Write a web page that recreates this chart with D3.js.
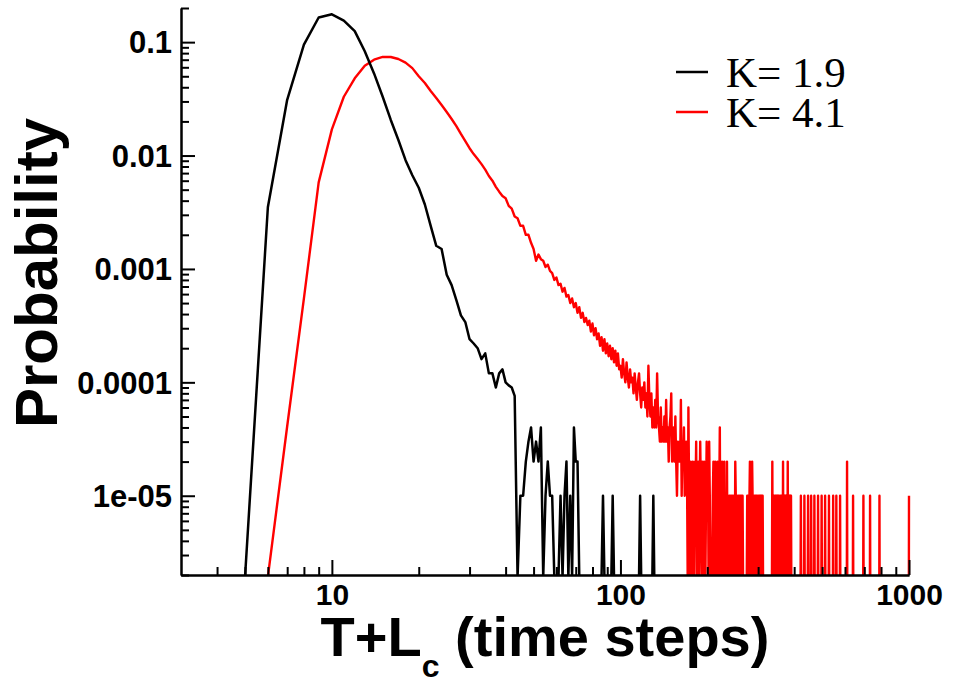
<!DOCTYPE html>
<html>
<head>
<meta charset="utf-8">
<script src="https://cdn.jsdelivr.net/npm/d3@7"></script>
<style>
  body { margin: 0; background: #fff; }
  svg text { font-family: "Liberation Sans", Arial, sans-serif; font-weight: bold; fill: #000; }
</style>
</head>
<body>
<div id="chart"></div>
<script>
// K = 1.9, probabilities for T+Lc = 5..43
const blackStart = 5;
const blackHead = [
  0, 0.0035, 0.031, 0.095, 0.165, 0.176, 0.155, 0.125, 0.083, 0.053,
  0.033, 0.0206, 0.0137, 0.0091, 0.0067, 0.0052, 0.0037, 0.0024, 0.0016, 0.0015,
  0.00089, 0.00072, 0.00053, 0.00039, 0.00034, 0.00024, 0.00022, 0.0002, 0.00016, 0.00018,
  0.00012, 0.00012, 0.00009, 0.00012, 0.00013, 0.0001, 0.000094, 0.00009, 0.000076
];
// K = 1.9, counts (x 1e-5) for T+Lc = 44..131
const blackTailStart = 44;
const blackTail = [
  0, 1, 1, 2, 3, 4, 2, 3, 2, 4,
  0, 1, 2, 1, 1, 0, 0, 0, 1, 0,
  1, 2, 0, 1, 0, 4, 2, 2, 0, 0,
  0, 0, 0, 0, 0, 0, 0, 0, 0, 0,
  0, 0, 0, 1, 0, 0, 0, 0, 0, 0,
  1, 0, 0, 0, 0, 0, 0, 0, 0, 0,
  0, 0, 0, 0, 0, 0, 0, 0, 0, 0,
  0, 0, 0, 1, 0, 0, 0, 0, 0, 0,
  0, 0, 0, 0, 0, 0, 1, 0
];

// K = 4.1, probabilities for T+Lc = 6..99
const redStart = 6;
const redHead = [
  0, 4.1e-5, 5.5e-4, 0.0058, 0.0170, 0.033, 0.048, 0.062, 0.070, 0.074,
  0.074, 0.071, 0.066, 0.059, 0.050, 0.0436, 0.0371, 0.0322, 0.0279, 0.0242,
  0.0210, 0.0182, 0.0155, 0.0134, 0.0116, 0.0103, 0.0093, 0.0084, 0.0075, 0.0066,
  0.0060, 0.0053, 0.0048, 0.0044, 0.0042, 0.0036, 0.0034, 0.0029, 0.0028, 0.0024,
  0.0024, 0.0020, 0.0020, 0.0017, 0.00150, 0.00118, 0.00134, 0.00122, 0.00118, 0.00104,
  0.00109, 0.00096, 0.00092, 0.00080, 0.00084, 0.00072, 0.00074, 0.00063, 0.00068, 0.00057,
  0.00059, 0.00050, 0.00055, 0.00046, 0.00050, 0.00041, 0.00046, 0.00037, 0.00041, 0.00034,
  0.00037, 0.00032, 0.00035, 0.00028, 0.00033, 0.00026, 0.00030, 0.00024, 0.00027, 0.00021,
  0.00025, 0.00019, 0.00024, 0.00018, 0.00022, 0.00017, 0.00021, 0.00016, 0.00020, 0.00015,
  0.00019, 0.00014, 0.00018, 0.00013
];
// K = 4.1, counts (x 1e-5) for T+Lc = 100..299
const redMidStart = 100;
const redMid = [
  14, 11, 16, 12, 10, 15, 11, 9, 13, 10,
  11, 8, 12, 9, 7, 10, 12, 8, 6, 9,
  7, 10, 6, 8, 5, 14, 7, 5, 8, 4,
  6, 4, 7, 4, 12, 5, 4, 3, 6, 3,
  4, 3, 5, 3, 7, 3, 4, 2, 4, 5,
  8, 2, 3, 4, 2, 5, 2, 1, 3, 2,
  3, 2, 7, 1, 3, 2, 4, 1, 2, 3,
  2, 0, 6, 1, 0, 2, 1, 0, 2, 1,
  0, 2, 1, 3, 0, 1, 2, 0, 1, 3,
  1, 0, 2, 1, 0, 2, 1, 0, 1, 3,
  1, 2, 0, 3, 1, 0, 0, 0, 0, 1,
  2, 0, 1, 2, 0, 1, 0, 2, 1, 0,
  1, 4, 0, 1, 0, 2, 1, 0, 1, 2,
  0, 1, 1, 0, 2, 0, 1, 0, 1, 1,
  0, 1, 0, 1, 1, 0, 1, 0, 1, 0,
  2, 1, 0, 1, 0, 1, 1, 0, 1, 0,
  1, 0, 1, 1, 0, 1, 0, 0, 0, 0,
  0, 0, 0, 0, 0, 1, 0, 1, 1, 0,
  1, 2, 0, 1, 0, 1, 2, 1, 0, 1,
  0, 1, 1, 0, 1, 0, 1, 0, 1, 0
];
// K = 4.1, non-zero counts for T+Lc = 300..1000 as [T+Lc, count]
const redTailEnd = 1000;
const redTail = [
  [301, 1], [303, 1], [305, 1], [307, 1], [309, 1], [311, 1], [336, 2], [338, 1],
  [340, 1], [343, 1], [345, 1], [347, 1], [349, 1], [351, 1], [353, 1], [355, 1],
  [359, 1], [361, 1], [363, 1], [366, 2], [368, 1], [370, 1], [372, 1], [374, 1],
  [376, 1], [378, 1], [380, 2], [382, 1], [384, 1], [386, 1], [388, 1], [390, 1],
  [422, 1], [434, 1], [447, 1], [458, 1], [470, 1], [484, 1], [498, 1], [512, 1],
  [528, 1], [546, 1], [560, 1], [577, 1], [610, 2], [640, 1], [695, 1], [733, 1],
  [790, 1], [1000, 1]
];

const xMajor = [10, 100, 1000];
const xMinor = [4, 5, 6, 7, 8, 9, 20, 30, 40, 50, 60, 70, 80, 90, 200, 300, 400, 500, 600, 700, 800, 900];
const yMajor = [0.1, 0.01, 0.001, 0.0001, 0.00001];
const yMajorLabels = ['0.1', '0.01', '0.001', '0.0001', '1e-05'];
const legendLabels = ['K= 1.9', 'K= 4.1'];
const seriesColors = ['#000000', '#ff0000'];

const width = 953, height = 683;
const plotLeft = 181, plotRight = 909, plotTop = 8, plotBottom = 575;
const countUnit = 1e-5;

const svg = d3.select('#chart').append('svg')
  .attr('width', width)
  .attr('height', height);

const x = d3.scaleLog().domain([3, 1000]).range([plotLeft, plotRight]);
const y = d3.scaleLog().domain([2e-6, 0.2]).range([plotBottom, plotTop]);

// y minor ticks
const yMinor = [];
[1e-6, 1e-5, 1e-4, 1e-3, 1e-2, 1e-1].forEach(function(d) {
  for (let k = 2; k <= 9; k++) {
    const v = d * k;
    if (v >= 2e-6 && v <= 0.2 + 1e-9) yMinor.push(v);
  }
});

// build series
const blackData = [];
blackHead.forEach(function(p, i) { blackData.push({ t: blackStart + i, p: p }); });
blackTail.forEach(function(c, i) { blackData.push({ t: blackTailStart + i, p: c * countUnit }); });

const redData = [];
redHead.forEach(function(p, i) { redData.push({ t: redStart + i, p: p }); });
redMid.forEach(function(c, i) { redData.push({ t: redMidStart + i, p: c * countUnit }); });
const tailStart = redMidStart + redMid.length;
const tailMap = new Map(redTail);
for (let t = tailStart; t <= redTailEnd; t++) {
  redData.push({ t: t, p: (tailMap.get(t) || 0) * countUnit });
}

svg.append('defs').append('clipPath')
  .attr('id', 'plot-clip')
  .append('rect')
  .attr('x', plotLeft)
  .attr('y', 0)
  .attr('width', plotRight - plotLeft + 2)
  .attr('height', plotBottom);

const line = d3.line()
  .x(function(d) { return x(d.t); })
  .y(function(d) { return d.p > 0 ? y(d.p) : plotBottom + 2; });

const plot = svg.append('g').attr('clip-path', 'url(#plot-clip)');

plot.append('path')
  .datum(redData)
  .attr('fill', 'none')
  .attr('stroke', seriesColors[1])
  .attr('stroke-width', 2.4)
  .attr('stroke-linejoin', 'round')
  .attr('d', line);

plot.append('path')
  .datum(blackData)
  .attr('fill', 'none')
  .attr('stroke', seriesColors[0])
  .attr('stroke-width', 2.5)
  .attr('stroke-linejoin', 'round')
  .attr('d', line);

// axes
const xAxisMinor = svg.append('g')
  .attr('transform', 'translate(0,' + plotBottom + ')')
  .call(d3.axisBottom(x).tickValues(xMinor).tickSize(-8).tickSizeOuter(0).tickFormat(''));

const xAxis = svg.append('g')
  .attr('transform', 'translate(0,' + plotBottom + ')')
  .call(d3.axisBottom(x).tickValues(xMajor).tickSize(-15).tickSizeOuter(0).tickPadding(9)
    .tickFormat(d3.format('d')));

const yAxisMinor = svg.append('g')
  .attr('transform', 'translate(' + plotLeft + ',0)')
  .call(d3.axisLeft(y).tickValues(yMinor).tickSize(-8).tickSizeOuter(0).tickFormat(''));

const yAxis = svg.append('g')
  .attr('transform', 'translate(' + plotLeft + ',0)')
  .call(d3.axisLeft(y).tickValues(yMajor).tickSize(-14).tickSizeOuter(0).tickPadding(9)
    .tickFormat(function(d, i) { return yMajorLabels[i]; }));

[xAxisMinor, xAxis, yAxisMinor, yAxis].forEach(function(g) {
  g.selectAll('path, line').attr('stroke', '#000').attr('stroke-width', 2);
});
xAxis.selectAll('text').style('font-size', '30px');
yAxis.selectAll('text').style('font-size', '31px').attr('dy', '0.35em');

// axis titles
const xTitle = svg.append('text')
  .attr('x', 545)
  .attr('y', 656)
  .attr('text-anchor', 'middle')
  .style('font-size', '56px');
xTitle.append('tspan').text('T+L');
xTitle.append('tspan').attr('dy', 21).style('font-size', '32px').text('c');
xTitle.append('tspan').attr('dy', -21).text(' (time steps)');

svg.append('text')
  .attr('transform', 'translate(57,273) rotate(-90)')
  .attr('text-anchor', 'middle')
  .style('font-size', '60px')
  .text('Probability');

// legend
const legend = svg.append('g');
legendLabels.forEach(function(label, i) {
  const ly = 72 + i * 40;
  legend.append('line')
    .attr('x1', 676).attr('x2', 708)
    .attr('y1', ly).attr('y2', ly)
    .attr('stroke', seriesColors[i])
    .attr('stroke-width', 2.5);
  legend.append('text')
    .attr('x', 726)
    .attr('y', ly + 15)
    .style('font-family', '"Liberation Serif", "Times New Roman", serif')
    .style('font-weight', 'normal')
    .style('font-size', '43px')
    .text(label);
});
</script>
</body>
</html>
